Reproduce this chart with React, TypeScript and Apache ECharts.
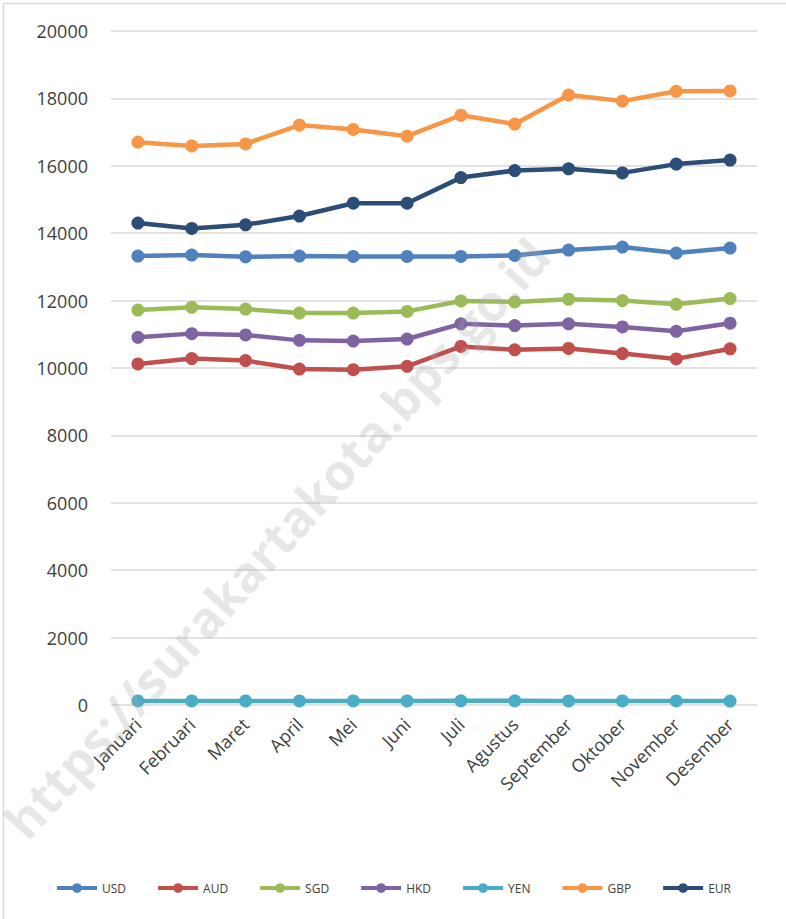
import React, { useEffect, useRef } from "react";
import * as echarts from "echarts";

const months = ["Januari", "Februari", "Maret", "April", "Mei", "Juni", "Juli", "Agustus", "September", "Oktober", "November", "Desember"];
const usd = [13320, 13350, 13300, 13320, 13310, 13310, 13310, 13340, 13500, 13590, 13410, 13560];
const aud = [10120, 10280, 10220, 9970, 9950, 10050, 10640, 10540, 10580, 10430, 10270, 10570];
const sgd = [11720, 11800, 11750, 11630, 11630, 11680, 11990, 11960, 12040, 12000, 11890, 12060];
const hkd = [10910, 11020, 10980, 10820, 10800, 10860, 11310, 11260, 11310, 11220, 11090, 11330];
const yen = [120, 120, 120, 120, 120, 120, 125, 125, 122, 120, 120, 118];
const gbp = [16700, 16590, 16650, 17210, 17080, 16880, 17500, 17240, 18100, 17920, 18210, 18220];
const eur = [14300, 14140, 14250, 14510, 14890, 14890, 15650, 15860, 15910, 15790, 16050, 16170];

const seriesDefs = [
  { name: "USD", data: usd, color: "#4F81BD" },
  { name: "AUD", data: aud, color: "#C0504D" },
  { name: "SGD", data: sgd, color: "#9BBB59" },
  { name: "HKD", data: hkd, color: "#8064A2" },
  { name: "YEN", data: yen, color: "#4BACC6" },
  { name: "GBP", data: gbp, color: "#F79646" },
  { name: "EUR", data: eur, color: "#2C4D75" },
];

export default function App() {
  const ref = useRef<HTMLDivElement>(null);
  useEffect(() => {
    if (!ref.current) return;
    const chart = echarts.init(ref.current, null, { renderer: "svg" });
    chart.setOption({
      animation: false,
      backgroundColor: "#ffffff",
      textStyle: { fontFamily: "Open Sans" },
      graphic: [
        {
          type: "rect",
          shape: { x: 3.5, y: 3.5, width: 800, height: 930 },
          style: { fill: "none", stroke: "#d9d9d9", lineWidth: 1.5 },
          z: -1,
        },
        {
          type: "text",
          x: 14,
          y: 830,
          rotation: (48 * Math.PI) / 180,
          style: {
            text: "https://surakartakota.bps.go.id",
            font: "bold 50px 'Open Sans'",
            fill: "rgba(170,170,170,0.28)",
            textVerticalAlign: "middle",
          },
          z: 100,
        },
      ],
      grid: { left: 111, right: 29, top: 31, bottom: 214, containLabel: false },
      legend: {
        bottom: 20,
        left: "center",
        itemWidth: 40,
        itemHeight: 12,
        itemGap: 30,
        lineStyle: { width: 4 },
        textStyle: { fontSize: 12, color: "#404040", fontFamily: "Open Sans" },
        data: seriesDefs.map((s) => s.name),
      },
      xAxis: {
        type: "category",
        data: months,
        boundaryGap: true,
        axisLine: { show: false },
        axisTick: { show: false },
        axisLabel: { rotate: 45, fontSize: 18, color: "#404040", margin: 16, interval: 0 },
      },
      yAxis: {
        type: "value",
        min: 0,
        max: 20000,
        interval: 2000,
        axisLine: { show: false },
        axisTick: { show: false },
        axisLabel: { fontSize: 18, color: "#404040", margin: 23, formatter: (v: number) => String(v) },
        splitLine: { lineStyle: { color: "#d9d9d9", width: 1.5 } },
      },
      series: seriesDefs.map((s) => ({
        name: s.name,
        type: "line",
        data: s.data,
        symbol: "circle",
        symbolSize: 13,
        itemStyle: { color: s.color },
        lineStyle: { color: s.color, width: 4.5 },
      })),
    });
    return () => chart.dispose();
  }, []);
  return <div ref={ref} style={{ position: "fixed", left: 0, top: 0, width: 786, height: 919 }} />;
}
